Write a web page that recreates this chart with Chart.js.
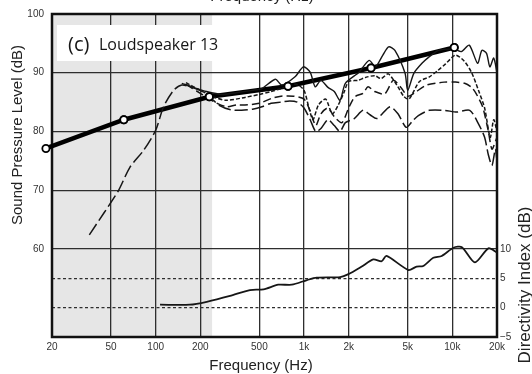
<!DOCTYPE html>
<html>
<head>
<meta charset="utf-8">
<script src="https://cdn.jsdelivr.net/npm/chart.js@4/dist/chart.umd.min.js"></script>
<style>
  html, body { margin: 0; padding: 0; background: #fff; }
  #wrap { width: 532px; height: 374px; }
</style>
</head>
<body>
<div id="wrap"><canvas id="chart" width="532" height="374"></canvas></div>
<script>
// --- data ---
const freqTicks = [20, 50, 100, 200, 500, 1000, 2000, 5000, 10000, 20000];
const freqTickLabels = ['20', '50', '100', '200', '500', '1k', '2k', '5k', '10k', '20k'];
const splTicks = [50, 55, 60, 70, 80, 90, 100];
const diTicks = [-5, 0, 5, 10];
const diTickLabels = ['\u22125', '0', '5', '10'];
const shadedRange = [20, 240];

// thick line with open circles
const powerFreq = [18.2, 61, 230, 780, 2830, 10300];
const powerSpl = [77.1, 82.0, 85.9, 87.7, 90.8, 94.3];

// thin solid curve
const solidFreq = [150, 180, 220, 280, 350, 450, 520, 640, 710, 870, 990, 1100, 1190, 1300, 1450, 1600, 1750, 1900, 2350, 2750, 3030, 3400, 3720, 4100, 4800, 5000, 5500, 6240, 6970, 8070, 10300, 11500, 13000, 14800, 15800, 17000, 17900, 19000, 20000];
const solidSpl = [88.2, 87.5, 86.8, 86.3, 86.6, 87.0, 87.3, 88.9, 87.9, 89.3, 91.0, 90.1, 87.6, 88.7, 87.5, 86.8, 85.3, 88.2, 90.1, 92.1, 91.0, 93.0, 94.4, 93.8, 89.9, 87.0, 89.9, 91.6, 92.7, 93.8, 94.0, 93.6, 94.7, 91.6, 93.8, 93.3, 91.0, 92.5, 90.0];

// short dashes
const shortFreq = [160, 200, 250, 300, 400, 500, 600, 700, 800, 900, 1000, 1080, 1150, 1250, 1400, 1550, 1700, 1850, 2000, 2300, 2600, 3000, 3300, 3700, 4200, 4700, 5100, 6000, 7000, 8000, 9000, 10500, 12000, 13500, 15000, 16500, 18000, 19000, 20000];
const shortSpl = [88.3, 87.0, 85.8, 85.3, 85.8, 86.3, 86.8, 87.3, 87.8, 88.0, 87.0, 84.0, 82.0, 84.5, 85.5, 83.0, 84.5, 86.5, 88.5, 88.7, 89.2, 89.5, 89.0, 89.8, 88.0, 86.0, 85.5, 88.5, 89.3, 90.4, 91.5, 93.0, 92.0, 90.0, 87.0, 84.0, 79.0, 82.0, 80.0];

// medium dashes
const mediumFreq = [160, 200, 250, 300, 350, 400, 500, 600, 700, 850, 1000, 1100, 1200, 1300, 1450, 1600, 1800, 2000, 2200, 2500, 2700, 3000, 3500, 4000, 4500, 5000, 5500, 6700, 8800, 10500, 12100, 13500, 14500, 16000, 17500, 18500, 20000];
const mediumSpl = [88.0, 86.5, 85.0, 84.2, 84.5, 84.5, 84.8, 85.6, 86.0, 86.0, 85.5, 83.5, 81.0, 83.0, 84.0, 82.5, 81.5, 84.0, 85.9, 86.5, 87.6, 86.8, 86.4, 88.7, 87.5, 86.0, 86.5, 87.9, 88.4, 88.4, 88.2, 87.5, 86.4, 84.2, 80.0, 77.0, 79.0];

// long dashes (starts in the bass)
const longFreq = [35.7, 45, 56, 67, 83, 100, 113, 132, 150, 175, 200, 230, 270, 320, 380, 450, 520, 600, 700, 800, 900, 1000, 1100, 1200, 1300, 1450, 1600, 1750, 1900, 2180, 2500, 2800, 3100, 3800, 4300, 4880, 5400, 5900, 7000, 8850, 10700, 13100, 15000, 16500, 17500, 18500, 19500, 20000];
const longSpl = [62.4, 66.2, 69.9, 73.9, 76.8, 80.2, 84.2, 87.0, 87.9, 87.5, 87.0, 85.9, 84.4, 83.7, 83.6, 83.8, 84.2, 84.8, 85.0, 85.2, 85.0, 84.0, 82.0, 80.0, 80.5, 82.0, 81.0, 80.0, 81.5, 82.2, 83.6, 82.8, 82.2, 84.2, 83.0, 80.7, 81.8, 82.7, 83.6, 83.6, 83.3, 83.6, 81.3, 79.0, 76.0, 74.2, 77.0, 75.0];

// directivity index (right axis)
const diFreq = [107, 170, 221, 317, 432, 534, 670, 827, 1048, 1218, 1752, 1992, 2450, 2930, 3340, 3600, 5060, 5740, 6370, 7440, 8480, 10180, 11600, 14200, 17500, 20000];
const diValues = [0.5, 0.5, 1.0, 2.0, 3.0, 3.1, 3.9, 3.9, 4.7, 5.1, 5.2, 5.7, 7.0, 8.2, 7.9, 8.8, 6.4, 7.0, 7.1, 8.5, 8.8, 10.2, 10.3, 7.7, 10.1, 9.4];

const toPoints = (xs, ys) => xs.map((f, i) => ({ x: f, y: ys[i] }));

const INK = '#161616';
const GRID = '#2e2e2e';
const LABEL = '#333';
const tickFont = { family: 'Liberation Sans, Arial, sans-serif', size: 10 };

// background shading, label box, frame and titles
const decor = {
  id: 'decor',
  beforeDraw(chart) {
    const { ctx, chartArea: a, scales: { x } } = chart;
    const x0 = x.getPixelForValue(shadedRange[0]);
    const x1 = x.getPixelForValue(shadedRange[1]);
    ctx.save();
    ctx.fillStyle = '#e6e6e6';
    ctx.fillRect(x0, a.top, x1 - x0, a.bottom - a.top);
    ctx.restore();
  },
  beforeDatasetsDraw(chart) {
    const { ctx, chartArea: a } = chart;
    ctx.save();
    // white label box
    ctx.fillStyle = '#fff';
    ctx.fillRect(a.left + 5, a.top + 11, 172, 36);
    ctx.fillStyle = INK;
    ctx.textBaseline = 'alphabetic';
    ctx.textAlign = 'left';
    ctx.font = '20px "Open Sans", sans-serif';
    ctx.fillText('(c)', a.left + 16, a.top + 37);
    ctx.font = '16px "Open Sans", sans-serif';
    ctx.fillText('Loudspeaker 13', a.left + 47, a.top + 36);
    // plot frame
    ctx.strokeStyle = '#111';
    ctx.lineWidth = 2.5;
    ctx.strokeRect(a.left, a.top, a.right - a.left, a.bottom - a.top);
    ctx.restore();
  },
  afterDatasetsDraw(chart) {
    // the first circle sits just left of 20 Hz; draw points without the area check
    const meta = chart.getDatasetMeta(chart.data.datasets.length - 1);
    meta.data.forEach(p => p.draw(chart.ctx));
  },
  afterDraw(chart) {
    const { ctx } = chart;
    ctx.save();
    ctx.fillStyle = '#222';
    ctx.font = '15px "Liberation Sans", Arial, sans-serif';
    ctx.textAlign = 'center';
    // cut-off title at top
    ctx.textBaseline = 'alphabetic';
    ctx.fillText('Frequency (Hz)', 262, 1);
    ctx.textBaseline = 'middle';
    ctx.fillText('Frequency (Hz)', 261, 366);
    ctx.translate(18, 135);
    ctx.rotate(-Math.PI / 2);
    ctx.fillText('Sound Pressure Level (dB)', 0, 0);
    ctx.restore();
    ctx.save();
    ctx.fillStyle = '#222';
    ctx.font = '17px "Liberation Sans", Arial, sans-serif';
    ctx.textAlign = 'center';
    ctx.textBaseline = 'middle';
    ctx.translate(525, 285);
    ctx.rotate(-Math.PI / 2);
    ctx.fillText('Directivity Index (dB)', 0, 0);
    ctx.restore();
  }
};

const thin = { pointRadius: 0, fill: false, tension: 0.25, borderColor: INK, yAxisID: 'y' };

new Chart(document.getElementById('chart'), {
  type: 'line',
  data: {
    datasets: [
      { ...thin, label: 'Long dash', data: toPoints(longFreq, longSpl), borderWidth: 1.5, borderDash: [13, 4] },
      { ...thin, label: 'Medium dash', data: toPoints(mediumFreq, mediumSpl), borderWidth: 1.5, borderDash: [8, 4] },
      { ...thin, label: 'Short dash', data: toPoints(shortFreq, shortSpl), borderWidth: 1.5, borderDash: [4, 2] },
      { ...thin, label: 'On axis', data: toPoints(solidFreq, solidSpl), borderWidth: 1.4 },
      { ...thin, label: 'DI', data: toPoints(diFreq, diValues), borderWidth: 1.8, yAxisID: 'y2' },
      {
        label: 'Power', data: toPoints(powerFreq, powerSpl), yAxisID: 'y',
        borderColor: '#000', borderWidth: 4.5, tension: 0, clip: false,
        pointRadius: 3.6, pointBackgroundColor: '#fff', pointBorderColor: '#000', pointBorderWidth: 1.8
      }
    ]
  },
  options: {
    responsive: false,
    animation: false,
    devicePixelRatio: 1,
    layout: { padding: { top: 14, left: 0, right: 0, bottom: 0 } },
    plugins: { legend: { display: false }, tooltip: { enabled: false } },
    scales: {
      x: {
        type: 'logarithmic',
        min: 20,
        max: 20000,
        afterBuildTicks: s => { s.ticks = freqTicks.map(v => ({ value: v })); },
        afterFit: s => { s.height = 37; },
        ticks: {
          autoSkip: false, maxRotation: 0, padding: 4, color: LABEL, font: tickFont,
          callback: (v) => freqTickLabels[freqTicks.indexOf(v)]
        },
        grid: {
          drawTicks: false, color: GRID,
          lineWidth: c => (c.tick && (c.tick.value === 20 || c.tick.value === 20000)) ? 0 : 1.3
        },
        border: { display: false }
      },
      y: {
        position: 'left',
        min: 45,
        max: 100,
        afterBuildTicks: s => { s.ticks = splTicks.map(v => ({ value: v })); },
        afterFit: s => { s.width = 52; },
        ticks: {
          autoSkip: false, padding: 8, color: LABEL, font: tickFont,
          callback: v => (v >= 60 ? String(v) : '')
        },
        grid: {
          drawTicks: false, color: GRID,
          lineWidth: c => (c.tick && c.tick.value >= 60 && c.tick.value < 100) ? 1.3 : 0
        },
        border: { display: false }
      },
      y2: {
        position: 'right',
        min: -5,
        max: 50,
        afterBuildTicks: s => { s.ticks = diTicks.map(v => ({ value: v })); },
        afterFit: s => { s.width = 35; },
        ticks: {
          autoSkip: false, padding: 3, color: LABEL, font: tickFont,
          callback: v => diTickLabels[diTicks.indexOf(v)]
        },
        grid: {
          drawTicks: false, color: GRID,
          lineWidth: c => (c.tick && (c.tick.value === 0 || c.tick.value === 5)) ? 1.3 : 0
        },
        border: { display: false, dash: [3, 2.5] }
      }
    }
  },
  plugins: [decor]
});
</script>
</body>
</html>
